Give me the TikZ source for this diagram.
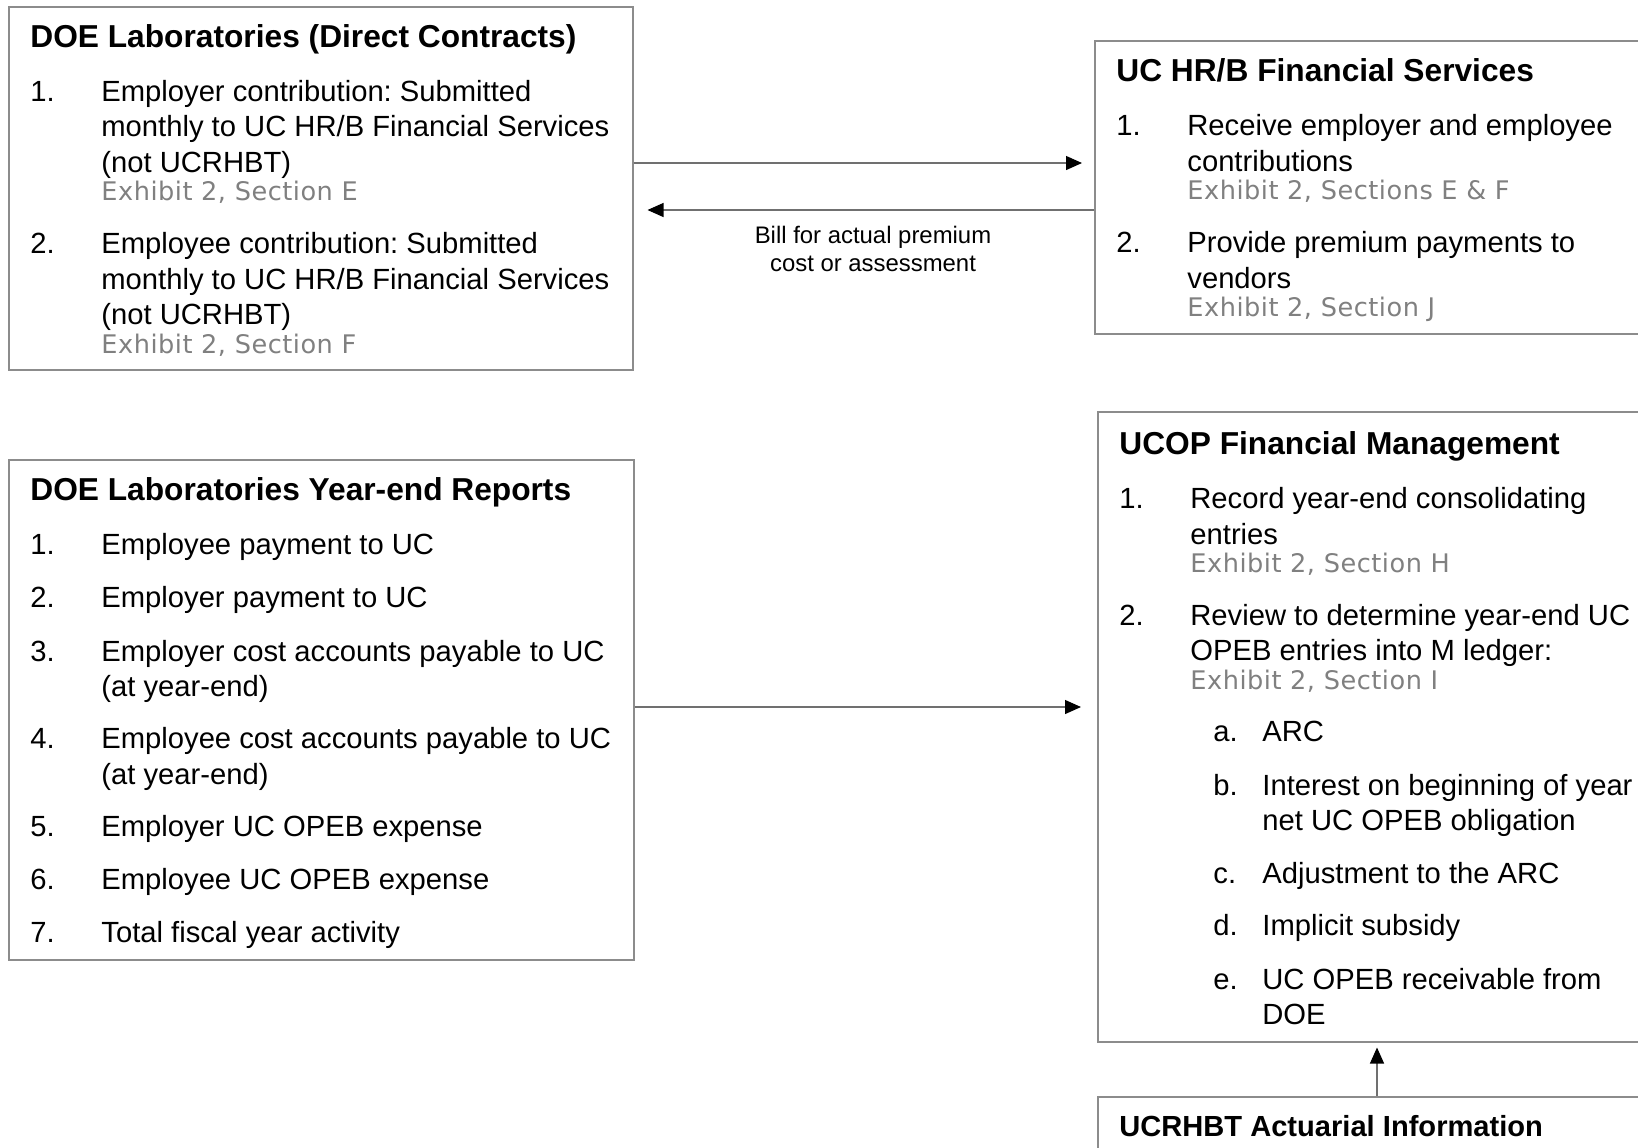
\documentclass[tikz,border=0pt]{standalone}
\usepackage{fontspec}
\setmainfont{Liberation Sans}
\newfontfamily\exhibitfont[LetterSpace=2]{DejaVu Sans}
\usetikzlibrary{arrows.meta}
\definecolor{boxgray}{HTML}{8C8C8C}
\definecolor{refgray}{HTML}{808080}
\definecolor{linegray}{HTML}{707070}
\frenchspacing

\begin{document}
\begin{tikzpicture}[x=0.5pt,y=-0.5pt,flow/.style={draw=linegray,line width=0.6pt,-{Triangle[length=8pt,width=7pt,color=black]}}]
    \tikzstyle{box}=[rectangle,draw=boxgray,line width=0.75pt,anchor=north west,inner sep=0pt]
    \tikzstyle{title}=[anchor=base west,inner sep=0pt,font=\fontsize{15.85}{19}\selectfont\bfseries]
    \tikzstyle{item}=[anchor=base west,inner sep=0pt,font=\fontsize{14.6}{17.5}\selectfont]
    \tikzstyle{ref}=[anchor=base west,inner sep=0pt,text=refgray,font=\exhibitfont\fontsize{12.8}{15.4}\selectfont]
    \tikzstyle{annot}=[align=center,inner sep=0pt,font=\fontsize{11.95}{14.1}\selectfont]

    \useasboundingbox (0,0) rectangle (1638,1147);
    \clip (0,0) rectangle (1638,1147);

    % DOE Laboratories (Direct Contracts)
    \node[box,minimum width=312pt,minimum height=181.5pt] (A) at (8,6) {};
    \node[title] (A-title) at (30,47.5) {DOE Laboratories (Direct Contracts)};
    \node[item] (A-n1) at (30,101) {1.};
    \foreach \y/\t [count=\i] in {101/{Employer contribution: Submitted},136/{monthly to UC HR/B Financial Services},172/{(not UCRHBT)}}
        \node[item] (A-1-\i) at (101,\y) {\t};
    \node[ref] (A-1-ref) at (101,200) {Exhibit 2, Section E};
    \node[item] (A-n2) at (30,253) {2.};
    \foreach \y/\t [count=\i] in {253/{Employee contribution: Submitted},289/{monthly to UC HR/B Financial Services},324/{(not UCRHBT)}}
        \node[item] (A-2-\i) at (101,\y) {\t};
    \node[ref] (A-2-ref) at (101,353) {Exhibit 2, Section F};

    % UC HR/B Financial Services
    \node[box,minimum width=300pt,minimum height=146.5pt] (B) at (1094,40) {};
    \node[title] (B-title) at (1116,81) {UC HR/B Financial Services};
    \node[item] (B-n1) at (1116,135) {1.};
    \node[item] (B-1-1) at (1187,135) {Receive employer and employee};
    \node[item] (B-1-2) at (1187,171) {contributions};
    \node[ref] (B-1-ref) at (1187,199) {Exhibit 2, Sections E \& F};
    \node[item] (B-n2) at (1116,252) {2.};
    \node[item] (B-2-1) at (1187,252) {Provide premium payments to};
    \node[item] (B-2-2) at (1187,288) {vendors};
    \node[ref] (B-2-ref) at (1187,316) {Exhibit 2, Section J};

    % DOE Laboratories Year-end Reports
    \node[box,minimum width=312.5pt,minimum height=250pt] (C) at (8,459) {};
    \node[title] (C-title) at (30,500) {DOE Laboratories Year-end Reports};
    \foreach \n/\y/\t in {1/554/{Employee payment to UC},2/607.5/{Employer payment to UC},3/661/{Employer cost accounts payable to UC},4/748.5/{Employee cost accounts payable to UC},5/836/{Employer UC OPEB expense},6/889.5/{Employee UC OPEB expense},7/942/{Total fiscal year activity}}
    {
        \node[item] (C-n\n) at (30,\y) {\n.};
        \node[item] (C-\n) at (101,\y) {\t};
    }
    \node[item] (C-3b) at (101,696) {(at year-end)};
    \node[item] (C-4b) at (101,784) {(at year-end)};

    % UCOP Financial Management
    \node[box,minimum width=300pt,minimum height=315pt] (D) at (1097,411) {};
    \node[title] (D-title) at (1119,454) {UCOP Financial Management};
    \node[item] (D-n1) at (1119,508) {1.};
    \node[item] (D-1-1) at (1190,508) {Record year-end consolidating};
    \node[item] (D-1-2) at (1190,544) {entries};
    \node[ref] (D-1-ref) at (1190,572) {Exhibit 2, Section H};
    \node[item] (D-n2) at (1119,625) {2.};
    \node[item] (D-2-1) at (1190,625) {Review to determine year-end UC};
    \node[item] (D-2-2) at (1190,660) {OPEB entries into M ledger:};
    \node[ref] (D-2-ref) at (1190,689) {Exhibit 2, Section I};
    \foreach \l/\y/\t in {a/741/{ARC},b/795.5/{Interest on beginning of year},c/883/{Adjustment to the ARC},d/935.5/{Implicit subsidy},e/989/{UC OPEB receivable from}}
    {
        \node[item] (D-n\l) at (1213,\y) {\l.};
        \node[item] (D-\l) at (1262,\y) {\t};
    }
    \node[item] (D-bb) at (1262,830) {net UC OPEB obligation};
    \node[item] (D-eb) at (1262,1024) {DOE};

    % UCRHBT Actuarial Information
    \node[box,minimum width=300pt,minimum height=100pt] (E) at (1097,1096) {};
    \node[title,font=\fontsize{14.55}{17.5}\selectfont\bfseries] (E-title) at (1119,1136) {UCRHBT Actuarial Information};

    % Connections
    \draw[flow,shorten >=6pt] (A.east |- 0,163) -- (B.west |- 0,163);
    \draw[flow,shorten >=7pt] (B.west |- 0,210) -- (A.east |- 0,210);
    \node[annot] (bill) at (873,249) {Bill for actual premium\\cost or assessment};
    \draw[flow,shorten >=8pt] (C.east |- 0,707) -- (D.west |- 0,707);
    \draw[flow,shorten >=2.5pt] (E.north -| 1377,0) -- (D.south -| 1377,0);
\end{tikzpicture}
\end{document}
